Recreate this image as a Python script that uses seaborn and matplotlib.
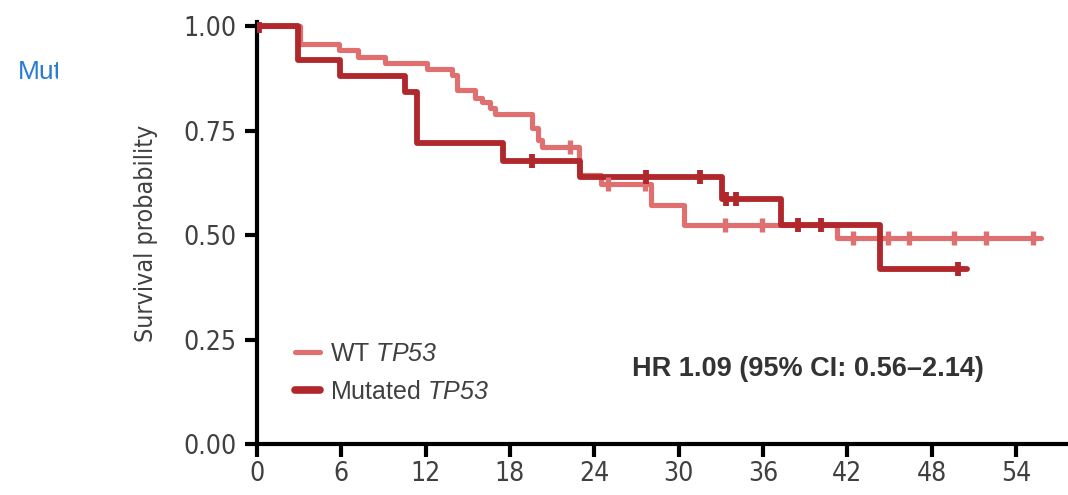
import numpy as np
import pandas as pd
import matplotlib
matplotlib.use("Agg")
import matplotlib.pyplot as plt
from matplotlib import font_manager
from matplotlib.transforms import Bbox
import seaborn as sns

# Kaplan-Meier curves (months, survival probability)
wt_time = [0, 3.06, 5.8, 7.2, 9.1, 12.1, 13.9, 14.2, 15.5, 16.0, 16.6, 16.9,
           19.6, 20.0, 20.3, 22.9, 24.5, 28.0, 30.4, 41.3, 55.8]
wt_surv = [1.0, 0.957, 0.943, 0.926, 0.911, 0.897, 0.883, 0.847, 0.828, 0.818, 0.804, 0.789,
           0.756, 0.727, 0.711, 0.645, 0.622, 0.572, 0.524, 0.493, 0.493]
wt_censor = [22.3, 25.0, 27.6, 33.3, 35.9, 42.4, 44.9, 46.4, 49.6, 51.9, 55.2]

mut_time = [0, 2.9, 5.9, 10.5, 11.4, 17.5, 23.0, 33.1, 37.3, 44.3, 50.5]
mut_surv = [1.0, 0.919, 0.880, 0.842, 0.720, 0.677, 0.639, 0.586, 0.524, 0.419, 0.419]
mut_censor = [0.15, 19.6, 27.7, 31.5, 33.4, 34.1, 38.5, 40.1, 49.9]

x_ticks = [0, 6, 12, 18, 24, 30, 36, 42, 48, 54]
y_ticks = [0.0, 0.25, 0.50, 0.75, 1.00]

wt_color = "#e07070"
mut_color = "#b0282c"
tick_color = "#404040"


def step_at(t, times, surv):
    idx = np.searchsorted(times, t, side="right") - 1
    return [surv[i] for i in idx]


wt_df = pd.DataFrame({"time": wt_time, "surv": wt_surv})
mut_df = pd.DataFrame({"time": mut_time, "surv": mut_surv})
wt_cens = pd.DataFrame({"time": wt_censor, "surv": step_at(wt_censor, wt_time, wt_surv)})
mut_cens = pd.DataFrame({"time": mut_censor, "surv": step_at(mut_censor, mut_time, mut_surv)})

sns.set_style("ticks")
plt.rcParams["font.family"] = ["Liberation Sans", "DejaVu Sans"]
plt.rcParams["mathtext.fontset"] = "custom"
plt.rcParams["mathtext.rm"] = "Liberation Sans:italic"
plt.rcParams["mathtext.it"] = "Liberation Sans:italic"
plt.rcParams["mathtext.bf"] = "Liberation Sans:bold"

# condensed face for the axis text
narrow_fp = font_manager.FontProperties(family="DejaVu Sans", stretch="condensed")

fig = plt.figure(figsize=(10.68, 4.95), dpi=100)
ax = fig.add_axes([257 / 1068, 1 - 444 / 495, 1 - 257 / 1068, (444 - 22) / 495])

sns.lineplot(data=wt_df, x="time", y="surv", drawstyle="steps-post", color=wt_color,
             linewidth=3.7, estimator=None, label="WT $TP53$", ax=ax)
sns.lineplot(data=mut_df, x="time", y="surv", drawstyle="steps-post", color=mut_color,
             linewidth=4.2, estimator=None, label="Mutated $TP53$", ax=ax)
sns.scatterplot(data=wt_cens, x="time", y="surv", marker="|", s=110, color=wt_color,
                linewidth=3.8, ax=ax, zorder=3)
sns.scatterplot(data=mut_cens, x="time", y="surv", marker="|", s=110, color=mut_color,
                linewidth=4.2, ax=ax, zorder=4)

ax.set_xlim(0, 57.7)
ax.set_ylim(0, 1.01)
ax.set_xticks(x_ticks)
ax.set_yticks(y_ticks)
ax.set_yticklabels([f"{v:.2f}" for v in y_ticks])
ax.set_xlabel("")
ax.set_ylabel("Survival probability", fontproperties=narrow_fp, fontsize=18, color=tick_color)
ax.yaxis.set_label_coords(-0.122, 0.5)

for side in ["top", "right"]:
    ax.spines[side].set_visible(False)
for side in ["left", "bottom"]:
    ax.spines[side].set_linewidth(3)
    ax.spines[side].set_color("black")
ax.tick_params(axis="both", length=9, width=3, color="black", direction="out",
               labelcolor=tick_color)
ax.tick_params(axis="x", pad=3)
ax.tick_params(axis="y", pad=6)
for lab in ax.get_xticklabels() + ax.get_yticklabels():
    lab.set_fontproperties(narrow_fp)
    lab.set_fontsize(19)

leg = ax.legend(loc="upper left", bbox_to_anchor=(295 / 1068, 1 - 342 / 495),
                bbox_transform=fig.transFigure, frameon=False, fontsize=18,
                handlelength=1.0, handletextpad=0.4, borderpad=0, borderaxespad=0,
                labelspacing=0.55)
for txt in leg.get_texts():
    txt.set_color(tick_color)
leg.get_lines()[1].set_linewidth(5.5)

ax.text(0.463, 0.177, "HR 1.09 (95% CI: 0.56\u20132.14)", transform=ax.transAxes,
        fontsize=19.5, fontweight="bold", color="#333333", ha="left", va="center")

mut = fig.text(18 / 1068, 1 - 72 / 495, "Mut", fontsize=19, color="#2a7bd5",
               ha="left", va="center")
mut.set_clip_box(Bbox.from_extents(0, 0, 58, 495))
mut.set_clip_on(True)

fig.savefig("out.png", dpi=100)
